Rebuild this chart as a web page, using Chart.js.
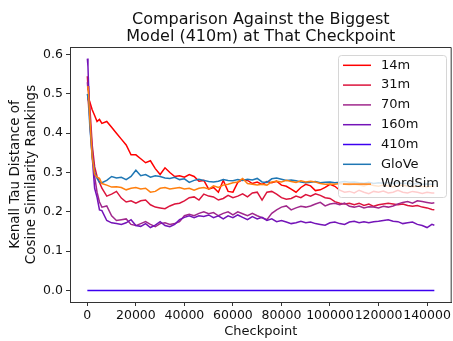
<!DOCTYPE html>
<html>
<head>
<meta charset="utf-8">
<script src="https://cdn.jsdelivr.net/npm/chart.js"></script>
<style>
  html, body { margin: 0; padding: 0; background: #fff; }
  #wrap { width: 453px; height: 341px; }
</style>
</head>
<body>
<div id="wrap"><canvas id="chart" width="453" height="341"></canvas></div>
<script>
// checkpoints (training steps)
const steps = [0, 256, 512, 1000, 2000, 3000, 4000, 5000, 6000, 8000,
  10000, 12000, 14000, 16000, 18000, 20000, 22000, 24000, 26000, 28000,
  30000, 32000, 34000, 36000, 38000, 40000, 42000, 44000, 46000, 48000,
  50000, 52000, 54000, 56000, 58000, 60000, 62000, 64000, 66000, 68000,
  70000, 72000, 74000, 76000, 78000, 80000, 82000, 84000, 86000, 88000,
  90000, 92000, 94000, 96000, 98000, 100000, 102000, 104000, 106000, 108000,
  110000, 112000, 114000, 116000, 118000, 120000, 122000, 124000, 126000, 128000,
  130000, 132000, 134000, 136000, 138000, 140000, 142000, 143000];

const m14 = [0.485, 0.50, 0.47, 0.48, 0.46, 0.445, 0.43, 0.435, 0.425, 0.43,
  0.415, 0.40, 0.385, 0.37, 0.345, 0.345, 0.335, 0.325, 0.33, 0.31,
  0.295, 0.312, 0.30, 0.29, 0.292, 0.288, 0.295, 0.29, 0.278, 0.28,
  0.258, 0.262, 0.25, 0.28, 0.252, 0.25, 0.275, 0.282, 0.28, 0.272,
  0.276, 0.27, 0.277, 0.274, 0.278, 0.268, 0.265, 0.258, 0.25, 0.262,
  0.27, 0.266, 0.254, 0.256, 0.262, 0.27, 0.265, 0.255, 0.25, 0.252,
  0.248, 0.255, 0.25, 0.246, 0.252, 0.25, 0.253, 0.248, 0.25, 0.255,
  0.25, 0.248, 0.252, 0.25, 0.247, 0.25, 0.248, 0.248];

const m31 = [0.545, 0.52, 0.50, 0.47, 0.37, 0.315, 0.29, 0.275, 0.26, 0.24,
  0.245, 0.252, 0.235, 0.225, 0.228, 0.222, 0.228, 0.23, 0.218, 0.212,
  0.21, 0.208, 0.215, 0.22, 0.222, 0.228, 0.236, 0.238, 0.23, 0.245,
  0.24, 0.238, 0.23, 0.234, 0.242, 0.236, 0.24, 0.246, 0.238, 0.248,
  0.25, 0.23, 0.25, 0.252, 0.245, 0.236, 0.232, 0.234, 0.24, 0.236,
  0.244, 0.24, 0.246, 0.242, 0.236, 0.234, 0.226, 0.222, 0.22, 0.222,
  0.218, 0.222, 0.216, 0.22, 0.214, 0.218, 0.22, 0.222, 0.22, 0.218,
  0.22, 0.216, 0.214, 0.216, 0.212, 0.21, 0.206, 0.205];

const m70 = [0.53, 0.51, 0.52, 0.44, 0.36, 0.29, 0.25, 0.225, 0.212, 0.215,
  0.19, 0.178, 0.18, 0.182, 0.168, 0.165, 0.17, 0.175, 0.168, 0.162,
  0.17, 0.172, 0.168, 0.17, 0.175, 0.19, 0.194, 0.19, 0.196, 0.2,
  0.195, 0.198, 0.19, 0.196, 0.2, 0.192, 0.2, 0.195, 0.19, 0.196,
  0.19, 0.185, 0.18, 0.196, 0.205, 0.212, 0.215, 0.205, 0.21, 0.214,
  0.212, 0.215, 0.22, 0.224, 0.215, 0.22, 0.222, 0.218, 0.222, 0.214,
  0.212, 0.215, 0.21, 0.213, 0.212, 0.21, 0.214, 0.212, 0.215, 0.22,
  0.224, 0.226, 0.222, 0.228, 0.226, 0.224, 0.222, 0.223];

const m160 = [0.59, 0.57, 0.52, 0.43, 0.34, 0.26, 0.237, 0.205, 0.203, 0.178,
  0.172, 0.17, 0.168, 0.172, 0.18, 0.165, 0.163, 0.17, 0.16, 0.166,
  0.175, 0.165, 0.162, 0.168, 0.18, 0.186, 0.19, 0.185, 0.19, 0.188,
  0.192, 0.185, 0.19, 0.182, 0.19, 0.185, 0.192, 0.186, 0.18, 0.188,
  0.182, 0.186, 0.178, 0.182, 0.175, 0.178, 0.174, 0.17, 0.172, 0.176,
  0.172, 0.174, 0.17, 0.168, 0.166, 0.172, 0.174, 0.17, 0.168, 0.174,
  0.176, 0.172, 0.175, 0.172, 0.175, 0.176, 0.178, 0.18, 0.176, 0.175,
  0.17, 0.172, 0.174, 0.168, 0.165, 0.16, 0.168, 0.166];

const m410 = [0, 0, 0, 0, 0, 0, 0, 0, 0, 0,
  0, 0, 0, 0, 0, 0, 0, 0, 0, 0,
  0, 0, 0, 0, 0, 0, 0, 0, 0, 0,
  0, 0, 0, 0, 0, 0, 0, 0, 0, 0,
  0, 0, 0, 0, 0, 0, 0, 0, 0, 0,
  0, 0, 0, 0, 0, 0, 0, 0, 0, 0,
  0, 0, 0, 0, 0, 0, 0, 0, 0, 0,
  0, 0, 0, 0, 0, 0, 0, 0];

const glove = [0.50, 0.50, 0.48, 0.42, 0.34, 0.30, 0.285, 0.275, 0.274, 0.28,
  0.29, 0.286, 0.288, 0.282, 0.29, 0.306, 0.292, 0.295, 0.288, 0.292,
  0.29, 0.286, 0.285, 0.288, 0.282, 0.284, 0.275, 0.28, 0.283, 0.28,
  0.277, 0.276, 0.278, 0.282, 0.28, 0.279, 0.282, 0.28, 0.283, 0.281,
  0.285, 0.276, 0.275, 0.284, 0.286, 0.283, 0.28, 0.281, 0.279, 0.276,
  0.274, 0.275, 0.277, 0.274, 0.275, 0.276, 0.274, 0.275, 0.277, 0.275,
  0.276, 0.274, 0.273, 0.275, 0.272, 0.274, 0.273, 0.275, 0.272, 0.274,
  0.272, 0.273, 0.271, 0.272, 0.27, 0.271, 0.27, 0.27];

const wordsim = [0.51, 0.52, 0.50, 0.44, 0.34, 0.295, 0.288, 0.285, 0.272, 0.268,
  0.263, 0.264, 0.262, 0.256, 0.26, 0.262, 0.258, 0.26, 0.25, 0.252,
  0.26, 0.262, 0.258, 0.26, 0.262, 0.258, 0.26, 0.255, 0.26, 0.262,
  0.258, 0.266, 0.262, 0.268, 0.27, 0.274, 0.276, 0.285, 0.272, 0.27,
  0.268, 0.27, 0.268, 0.276, 0.278, 0.276, 0.28, 0.277, 0.275, 0.279,
  0.276, 0.278, 0.276, 0.272, 0.27, 0.271, 0.27, 0.272, 0.27, 0.268,
  0.27, 0.268, 0.266, 0.27, 0.267, 0.265, 0.268, 0.266, 0.264, 0.266,
  0.268, 0.265, 0.264, 0.266, 0.265, 0.264, 0.266, 0.265];

const seriesNames = ["14m", "31m", "70m", "160m", "410m", "GloVe", "WordSim"];
const seriesValues = [m14, m31, m70, m160, m410, glove, wordsim];
const seriesColors = ["#ff0000", "#dc143c", "#a0288c", "#7414b8", "#3c00f0", "#1f77b4", "#ff7f0e"];

const xTicks = [0, 20000, 40000, 60000, 80000, 100000, 120000, 140000];
const yTicks = [0.0, 0.1, 0.2, 0.3, 0.4, 0.5, 0.6];

const FONT = "'DejaVu Sans', sans-serif";

// top + right spines (matplotlib box)
const boxPlugin = {
  id: "box",
  afterDatasetsDraw(chart) {
    const { ctx, chartArea: a } = chart;
    ctx.save();
    ctx.strokeStyle = "#333";
    ctx.lineWidth = 1;
    ctx.beginPath();
    ctx.moveTo(a.left, a.top + 0.5);
    ctx.lineTo(a.right - 0.5, a.top + 0.5);
    ctx.lineTo(a.right - 0.5, a.bottom);
    ctx.stroke();
    ctx.restore();
  }
};

// legend box drawn inside the axes, upper right like matplotlib
const legendPlugin = {
  id: "mplLegend",
  afterDraw(chart) {
    const { ctx } = chart;
    const x = 338, y = 55, w = 108, h = 142, r = 3;
    ctx.save();
    ctx.beginPath();
    ctx.roundRect(x + 0.5, y + 0.5, w, h, r);
    ctx.fillStyle = "rgba(255,255,255,0.8)";
    ctx.fill();
    ctx.strokeStyle = "#d6d6d6";
    ctx.lineWidth = 1;
    ctx.stroke();
    ctx.font = "13px " + FONT;
    ctx.textBaseline = "middle";
    ctx.textAlign = "left";
    seriesNames.forEach((name, i) => {
      const cy = 65.3 + i * 19.8;
      ctx.strokeStyle = seriesColors[i];
      ctx.lineWidth = 1.5;
      ctx.beginPath();
      ctx.moveTo(343, cy);
      ctx.lineTo(371, cy);
      ctx.stroke();
      ctx.fillStyle = "#111";
      ctx.fillText(name, 381, cy);
    });
    ctx.restore();
  }
};

const datasets = seriesNames.map((name, i) => ({
  label: name,
  data: steps.map((s, j) => ({ x: s, y: seriesValues[i][j] })),
  borderColor: seriesColors[i],
  backgroundColor: seriesColors[i],
  borderWidth: 1.5,
  pointRadius: 0,
  tension: 0,
  fill: false,
  order: seriesNames.length - i // later series on top, as in matplotlib
}));

new Chart(document.getElementById("chart").getContext("2d"), {
  type: "line",
  data: { datasets },
  options: {
    responsive: false,
    animation: false,
    layout: { padding: { left: 0, right: 1, top: 0, bottom: 0 } },
    plugins: {
      legend: { display: false },
      tooltip: { enabled: false },
      title: {
        display: true,
        fullSize: false, // center over the plot area, not the canvas
        text: ["Comparison Against the Biggest", "Model (410m) at That Checkpoint"],
        color: "#111",
        font: { family: FONT, size: 16, weight: "normal", lineHeight: 1.0625 },
        padding: { top: 11, bottom: 2 }
      }
    },
    scales: {
      x: {
        type: "linear",
        min: -7150,
        max: 150150,
        afterFit: (s) => { s.height = 39; },
        afterBuildTicks: (s) => { s.ticks = xTicks.map(v => ({ value: v })); },
        ticks: {
          autoSkip: false,
          maxRotation: 0,
          minRotation: 0,
          padding: 2,
          color: "#111",
          font: { family: FONT, size: 12.5 },
          callback: (v) => String(v)
        },
        grid: { drawOnChartArea: false, drawTicks: true, tickLength: 4, color: "#333" },
        border: { display: true, color: "#333", width: 1 },
        title: {
          display: true,
          text: "Checkpoint",
          color: "#111",
          font: { family: FONT, size: 13 },
          padding: { top: 0, bottom: 2 }
        }
      },
      y: {
        type: "linear",
        min: -0.0295,
        max: 0.6195,
        afterFit: (s) => { s.width = 70; },
        afterBuildTicks: (s) => { s.ticks = yTicks.map(v => ({ value: v })); },
        ticks: {
          padding: 3,
          color: "#111",
          font: { family: FONT, size: 12.5 },
          callback: (v) => Number(v).toFixed(1)
        },
        grid: { drawOnChartArea: false, drawTicks: true, tickLength: 4, color: "#333" },
        border: { display: true, color: "#333", width: 1 },
        title: {
          display: true,
          text: ["Kenall Tau Distance of", "Cosine Similarity Rankings"],
          color: "#111",
          font: { family: FONT, size: 13.5, lineHeight: 1.2 },
          padding: { top: 7, bottom: 0 }
        }
      }
    }
  },
  plugins: [boxPlugin, legendPlugin]
});
</script>
</body>
</html>
